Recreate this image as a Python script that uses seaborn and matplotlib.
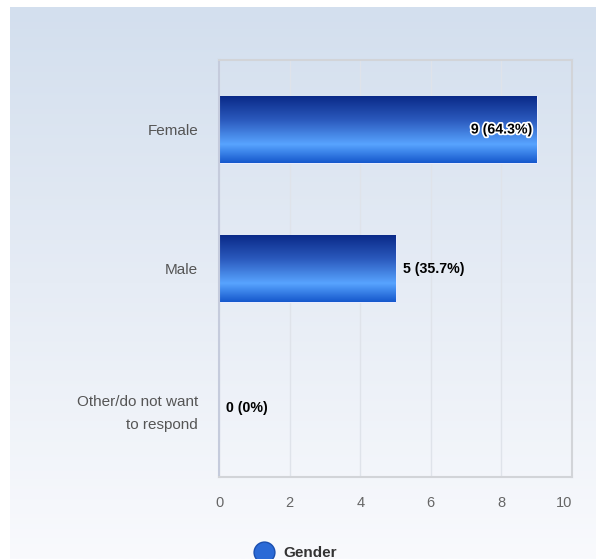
import numpy as np
import pandas as pd
import seaborn as sb
import matplotlib.pyplot as plt
from matplotlib.colors import LinearSegmentedColormap
from matplotlib.lines import Line2D
import matplotlib.patheffects as pe

# data
categories = ['Female', 'Male', 'Other/do not want\nto respond']
counts = [9, 5, 0]
percents = ['64.3%', '35.7%', '0%']
x_ticks = [0, 2, 4, 6, 8, 10]
legend_label = 'Gender'

sb.set_style('white')
plt.rcParams['font.family'] = ['Liberation Sans', 'DejaVu Sans']

W, H = 596, 559
fig = plt.figure(figsize=(W / 100, H / 100), dpi=100)
fig.patch.set_facecolor('white')

# background panel with vertical gradient
bg = fig.add_axes([10 / W, 0, (W - 10) / W, (H - 7) / H])
bg_cmap = LinearSegmentedColormap.from_list('bg', ['#d3dfee', '#e6ecf5', '#f9fafd'])
bg.imshow(np.linspace(0, 1, 256).reshape(-1, 1), aspect='auto', cmap=bg_cmap,
          extent=[0, 1, 0, 1])
bg.set_axis_off()

ax = fig.add_axes([219 / W, 1 - 477 / H, 353 / W, 417 / H])
ax.patch.set_alpha(0)

df = pd.DataFrame({'category': categories, 'count': counts})
sb.barplot(data=df, x='count', y='category', orient='h', ax=ax,
           color='#2a62c8', width=0.48, edgecolor='#e8ecff', linewidth=0.8)

# gradient fill for bars
bar_cmap = LinearSegmentedColormap.from_list(
    'bar', [(0.0, '#0a2a88'), (0.35, '#2a58bc'), (0.72, '#58a4ff'), (1.0, '#1558cc')])
grad = np.linspace(0, 1, 256).reshape(-1, 1)
for p in ax.patches:
    w = p.get_width()
    if w <= 0:
        continue
    x0, y0, h = p.get_x(), p.get_y(), p.get_height()
    im = ax.imshow(grad, aspect='auto', cmap=bar_cmap, origin='upper',
                   extent=[x0, x0 + w, y0 + h, y0], zorder=p.get_zorder() + 0.1)
    im.set_clip_path(p)

ax.set_xlim(0, 10)
ax.set_ylim(2.5, -0.5)
ax.set_xticks(x_ticks)
ax.set_xticklabels([str(t) for t in x_ticks])
ax.set_xlabel('')
ax.set_ylabel('')

ax.grid(axis='x', color='#dfe3ea', lw=1)
ax.set_axisbelow(True)
ax.tick_params(axis='x', length=0, pad=14, labelsize=10.5, labelcolor='#666666')
ax.tick_params(axis='y', length=0, pad=15, labelsize=11, labelcolor='#555555')
for lbl in ax.get_yticklabels():
    lbl.set_linespacing(1.8)
last = ax.get_xticklabels()[-1]
last.set_horizontalalignment('right')

for side in ['top', 'right', 'bottom']:
    ax.spines[side].set_color('#d2d4d8')
    ax.spines[side].set_linewidth(1.5)
ax.spines['left'].set_color('#c5cbdc')
ax.spines['left'].set_linewidth(1.5)

# value labels
for i, (c, pc) in enumerate(zip(counts, percents)):
    txt = f'{c} ({pc})'
    if c >= 8:
        ax.text(c - 0.12, i, txt, ha='right', va='center', fontsize=10.2,
                fontweight='bold', color='black',
                path_effects=[pe.withStroke(linewidth=2.5, foreground='white')])
    else:
        ax.text(c + 0.2, i, txt, ha='left', va='center', fontsize=10.2,
                fontweight='bold', color='black')

# legend
handle = Line2D([], [], marker='o', ls='', markersize=15,
                markerfacecolor='#2b6ad6', markeredgecolor='#1a4fb0')
fig.legend(handles=[handle], labels=[legend_label], loc='center',
           bbox_to_anchor=(293 / W, 1 - 553 / H), frameon=False,
           handletextpad=0.3, prop={'weight': 'bold', 'size': 11},
           labelcolor='#333333')

fig.savefig('out.png', dpi=100)
